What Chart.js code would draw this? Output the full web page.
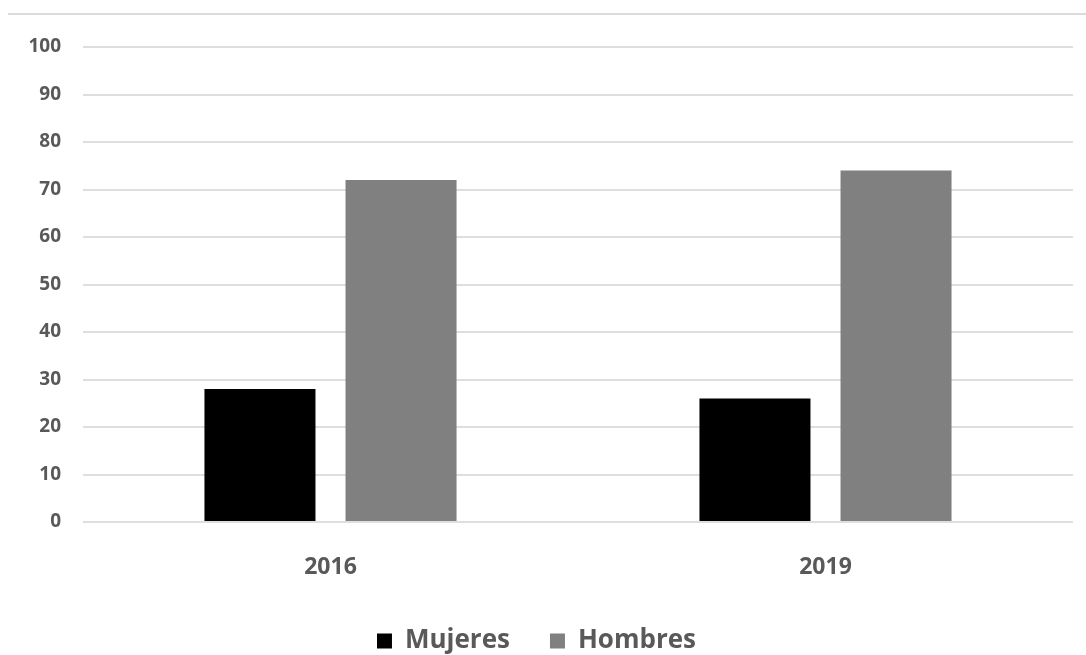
<!DOCTYPE html>
<html>
<head>
<meta charset="utf-8">
<script src="https://cdn.jsdelivr.net/npm/chart.js@4"></script>
<style>
  html, body { margin: 0; padding: 0; background: #fff; overflow: hidden; }
  #wrap { position: relative; width: 1086px; height: 655px; }
  #topRule { position: absolute; left: 8px; right: 0; top: 13px; border-top: 2px solid #dcdcdc; }
</style>
</head>
<body>
<div id="wrap">
  <div id="topRule"></div>
  <canvas id="chart" width="1086" height="655"></canvas>
</div>
<script>
const YEARS = ["2016", "2019"];
const MUJERES = [28, 26];
const HOMBRES = [72, 74];
const Y_MIN = 0;
const Y_MAX = 100;
const Y_STEP = 10;

const TEXT_COLOR = "#595959";
const GRID_COLOR = "#dedede";
const FONT = "'Open Sans', 'DejaVu Sans', sans-serif";

new Chart(document.getElementById("chart"), {
  type: "bar",
  data: {
    labels: YEARS,
    datasets: [
      { label: "Mujeres", data: MUJERES, backgroundColor: "#000000" },
      { label: "Hombres", data: HOMBRES, backgroundColor: "#808080" },
    ],
  },
  options: {
    responsive: false,
    animation: false,
    layout: { padding: { top: 47, right: 13, left: 0, bottom: -9 } },
    categoryPercentage: 0.57,
    barPercentage: 0.787,
    scales: {
      x: {
        grid: { display: false, drawTicks: false },
        border: { display: false },
        ticks: { color: TEXT_COLOR, padding: 32, font: { family: FONT, size: 23, weight: "bold" } },
        afterFit: (s) => { s.height = 66; },
      },
      y: {
        min: Y_MIN,
        max: Y_MAX,
        ticks: { stepSize: Y_STEP, color: TEXT_COLOR, padding: 22, font: { family: FONT, size: 19, weight: "bold" } },
        grid: { color: GRID_COLOR, lineWidth: 2, drawTicks: false },
        border: { display: false },
        afterFit: (s) => { s.width = 83; },
      },
    },
    plugins: {
      legend: {
        position: "bottom",
        labels: {
          color: TEXT_COLOR,
          font: { family: FONT, size: 26, weight: "bold" },
          boxWidth: 15,
          boxHeight: 15,
          padding: 40,
        },
      },
      tooltip: { enabled: false },
    },
  },
});
</script>
</body>
</html>
